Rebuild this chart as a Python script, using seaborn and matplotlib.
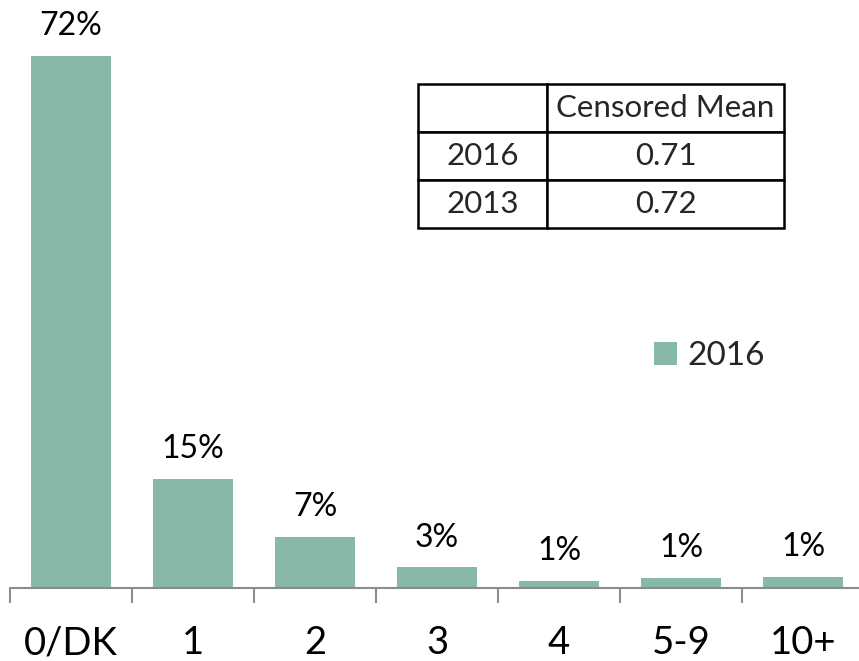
import matplotlib
matplotlib.use("Agg")
import matplotlib.pyplot as plt
import seaborn as sns
import pandas as pd

categories = ["0/DK", "1", "2", "3", "4", "5-9", "10+"]
values_2016 = [72.0, 14.75, 6.9, 2.8, 0.99, 1.39, 1.49]
series_name = "2016"
table_header = ["", "Censored Mean"]
table_rows = [["2016", "0.71"], ["2013", "0.72"]]

sns.set_theme(style="white")
plt.rcParams["font.family"] = ["Lato", "DejaVu Sans"]

W, H = 859, 661
fig = plt.figure(figsize=(W / 100, H / 100), dpi=100)
ax = fig.add_axes([10 / W, 73 / H, 854 / W, 554.2 / H])

df = pd.DataFrame({"cat": categories, "val": values_2016})
color = "#88B8A8"
sns.barplot(data=df, x="cat", y="val", color=color, saturation=1, width=0.66,
            linewidth=0, label=series_name, ax=ax)

ax.set_xlim(-0.5, 6.5)
ax.set_ylim(0, 75)
ax.set_xlabel("")
ax.set_ylabel("")
ax.set_yticks([])
for s in ["top", "right", "left"]:
    ax.spines[s].set_visible(False)
ax.spines["bottom"].set_color("#8c8c8c")
ax.spines["bottom"].set_linewidth(1.5)

ax.set_xticks(range(len(categories)))
ax.set_xticklabels(categories, fontsize=27.5)
ax.tick_params(axis="x", which="major", length=0, pad=27, colors="black")
ax.set_xticks([i - 0.5 for i in range(len(categories) + 1)], minor=True)
ax.tick_params(axis="x", which="minor", length=11, width=1.5, color="#8c8c8c",
               direction="out", bottom=True)

for i, v in enumerate(values_2016):
    ax.annotate(f"{round(v)}%", (i, v), xytext=(0, 10.5), textcoords="offset points",
                ha="center", va="bottom", fontsize=23, color="black")

leg = ax.legend(loc="center left", bbox_to_anchor=(654 / W, (H - 356) / H),
                bbox_transform=fig.transFigure, frameon=False, fontsize=24,
                handlelength=0.7, handleheight=0.7, handletextpad=0.3,
                borderpad=0, borderaxespad=0)

tax = fig.add_axes([418 / W, (H - 228) / H, 366 / W, 144 / H])
tax.axis("off")
tbl = tax.table(cellText=table_rows, colLabels=table_header,
                colWidths=[129 / 366, 237 / 366], cellLoc="center",
                bbox=[0, 0, 1, 1])
tbl.auto_set_font_size(False)
for (r, c), cell in tbl.get_celld().items():
    cell.set_edgecolor("black")
    cell.set_linewidth(1.8)
    cell.set_facecolor("white")
    cell.get_text().set_fontsize(22.5)

fig.savefig("out.png", dpi=100)
